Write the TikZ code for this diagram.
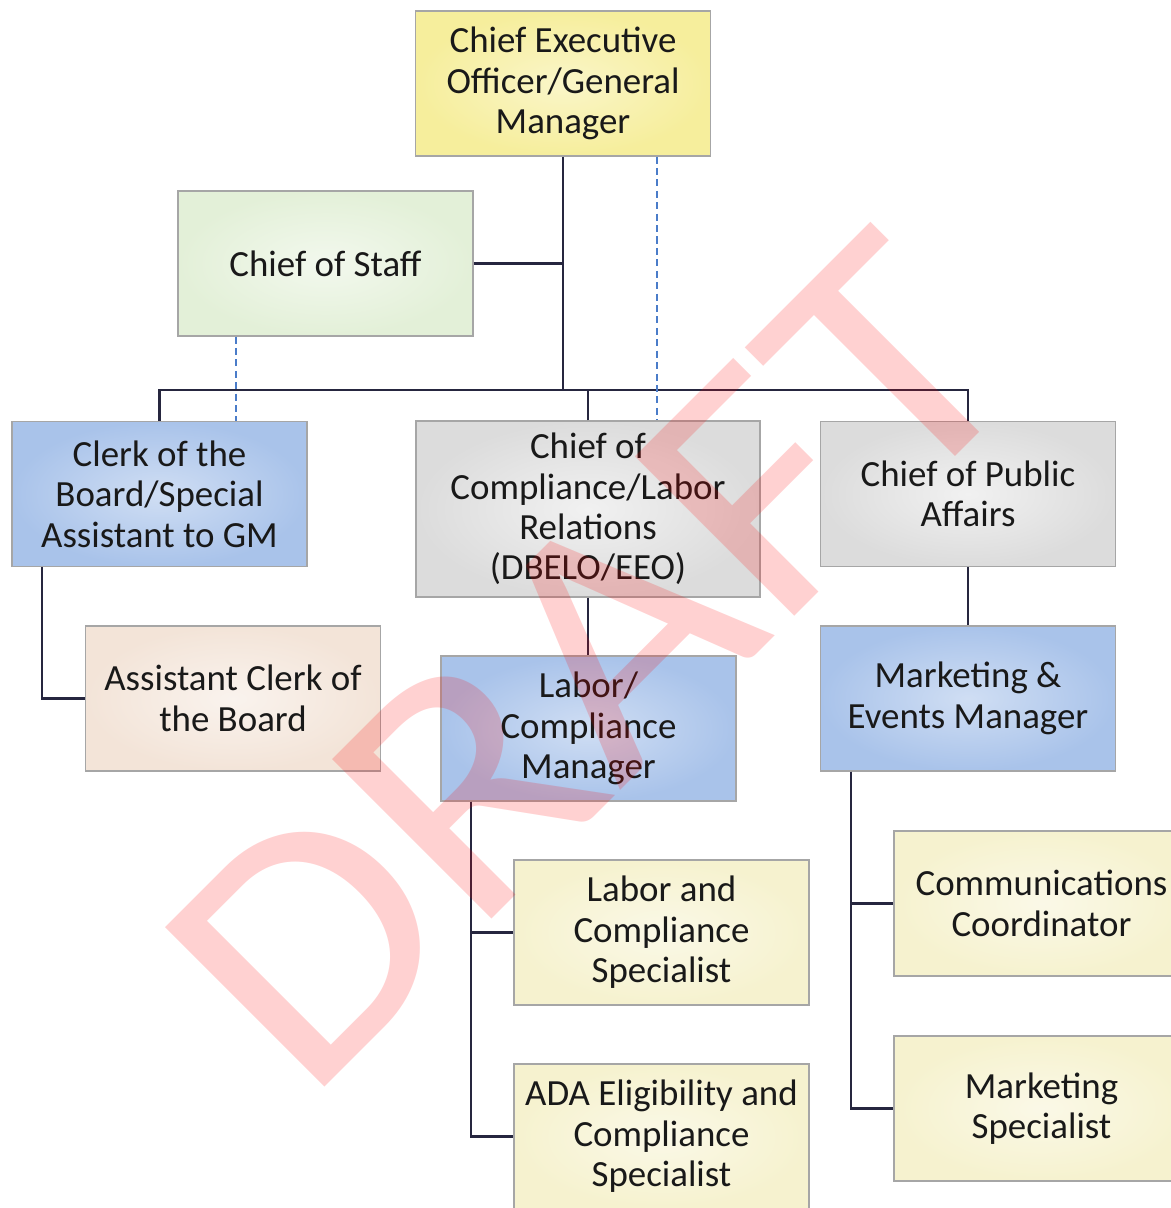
\documentclass[tikz,border=0pt]{standalone}
\usepackage{fontspec}
\setmainfont{Carlito}
\usepackage{xcolor}
\usepackage{tikz}
\usetikzlibrary{positioning, calc}
\definecolor{linecol}{HTML}{26263f}
\definecolor{dashcol}{HTML}{4a7cc9}
\definecolor{ceofill}{HTML}{f6ee9c}
\definecolor{stafffill}{HTML}{e3f0d8}
\definecolor{bluefill}{HTML}{a9c3ea}
\definecolor{greyfill}{HTML}{dcdcdc}
\definecolor{peachfill}{HTML}{f3e4d8}
\definecolor{creamfill}{HTML}{f6f2cf}

\begin{document}
\begin{tikzpicture}[
    post/.style={
        rectangle, draw=black!35, line width=0.6pt,
        minimum width=5.9cm, minimum height=2.9cm,
        font=\fontsize{21}{23}\selectfont, text=black!90,
        align=center, inner sep=2pt,
    },
    link/.style={draw=linecol, line width=1.2pt},
    dashlink/.style={draw=dashcol, line width=1.1pt, dash pattern=on 4pt off 2.5pt},
    watermark/.style={
        font=\fontsize{200}{202}\selectfont, text=red, text opacity=0.18,
        rotate=45, xscale=1.09, inner sep=0pt,
    },
]
\useasboundingbox (0,0) rectangle (23.42,-24.16);

% ── Top level ──────────────────────────────────────────────────────────────
\node[post, inner color=ceofill!55!white, outer color=ceofill] (ceo) at (11.26,-1.67)
    {Chief Executive\\Officer/General\\Manager};
\node[post, inner color=stafffill!45!white, outer color=stafffill] (staff) at (6.51,-5.27)
    {Chief of Staff};

% ── Second level ───────────────────────────────────────────────────────────
\node[post, inner color=bluefill!55!white, outer color=bluefill] (clerk) at (3.19,-9.88)
    {Clerk of the\\Board/Special\\Assistant to GM};
\node[post, minimum width=6.88cm, minimum height=3.52cm,
      inner color=greyfill!40!white, outer color=greyfill] (compl) at (11.76,-10.18)
    {Chief of\\Compliance/Labor\\Relations\\(DBELO/EEO)};
\node[post, inner color=greyfill!40!white, outer color=greyfill] (pubaff) at (19.36,-9.88)
    {Chief of Public\\Affairs};

% ── Third level ────────────────────────────────────────────────────────────
\node[post, inner color=peachfill!45!white, outer color=peachfill] (asstclerk) at (4.66,-13.97)
    {Assistant Clerk of\\the Board};
\node[post, inner color=bluefill!55!white, outer color=bluefill] (labmgr) at (11.77,-14.57)
    {Labor/\\Compliance\\Manager};
\node[post, inner color=bluefill!55!white, outer color=bluefill] (mktmgr) at (19.36,-13.97)
    {Marketing \&\\Events Manager};

% ── Specialists ────────────────────────────────────────────────────────────
\node[post, inner color=creamfill!50!white, outer color=creamfill] (labspec) at (13.23,-18.65)
    {Labor and\\Compliance\\Specialist};
\node[post, inner color=creamfill!50!white, outer color=creamfill] (adaspec) at (13.23,-22.73)
    {ADA Eligibility and\\Compliance\\Specialist};
\node[post, inner color=creamfill!50!white, outer color=creamfill] (comms) at (20.83,-18.07)
    {Communications\\Coordinator};
\node[post, inner color=creamfill!50!white, outer color=creamfill] (mktspec) at (20.83,-22.17)
    {Marketing\\Specialist};

% ── Reporting lines ────────────────────────────────────────────────────────
\coordinate (bus) at (0,-7.8);
\draw[link] (ceo.south) -- (ceo.south |- bus);
\draw[link] (staff.east) -- (staff.east -| ceo.south);
\draw[link] (clerk.north) -- (clerk.north |- bus) -- (pubaff.north |- bus) -- (pubaff.north);
\draw[link] (compl.north) -- (compl.north |- bus);
\draw[link] ([xshift=-2.35cm]clerk.south) |- (asstclerk.west);
\draw[link] (compl.south) -- (compl.south |- labmgr.north);
\draw[link] (pubaff.south) -- (mktmgr.north);
\draw[link] ([xshift=-2.35cm]labmgr.south) |- (labspec.west);
\draw[link] ([xshift=-2.35cm]labmgr.south) |- (adaspec.west);
\draw[link] ([xshift=-2.34cm]mktmgr.south) |- (comms.west);
\draw[link] ([xshift=-2.34cm]mktmgr.south) |- (mktspec.west);

% dotted-line reports
\draw[dashlink] ([xshift=1.88cm]ceo.south) -- ([xshift=1.88cm]ceo.south |- compl.north);
\draw[dashlink] ([xshift=-1.79cm]staff.south) -- ([xshift=-1.79cm]staff.south |- clerk.north);

% ── Watermark ──────────────────────────────────────────────────────────────
\node[watermark] (draft) at (11.80,-13.24) {DRAFT};

\end{tikzpicture}
\end{document}
